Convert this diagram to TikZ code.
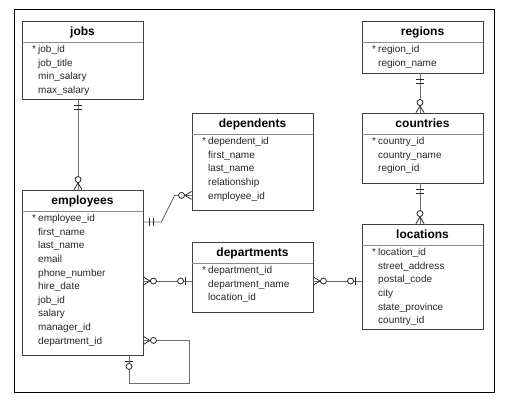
\documentclass[tikz,border=0pt]{standalone}
\usepackage{fontspec}
\setmainfont{Liberation Sans}
\usetikzlibrary{calc,fit}
\definecolor{boxline}{HTML}{404040}
\definecolor{sepcol}{HTML}{8C8C8C}
\definecolor{conncol}{HTML}{6E6E6E}
\newcommand{\ertable}[6]{%
  \node[tbox, fit={(#2,#3) (#2+121,#4)}] (#1) {};
  \draw[sepline] (#2,#3+21) -- (#2+121,#3+21);
  \node[ttl] (#1-title) at (#2+60.5,#3+10.5) {#5};
  \node[rowtxt] (#1-star) at (#2+10,#3+28) {*};
  \foreach \r [count=\i from 0] in {#6} {
    \node[rowtxt] (#1-\i) at (#2+16,#3+28+\i*13.6) {\r};
  }%
}
\tikzset{
  tbox/.style={draw=boxline, line width=0.9pt, fill=white, inner sep=0pt},
  sepline/.style={draw=sepcol, line width=0.9pt},
  ttl/.style={font=\fontsize{12}{14}\selectfont\bfseries, text height=8.6pt, text depth=0pt, inner sep=0pt, anchor=center},
  rowtxt/.style={font=\fontsize{10}{12}\selectfont, text=black!85, text height=7.2pt, text depth=0pt, inner sep=0pt, anchor=west},
  conn/.style={draw=conncol, line width=0.9pt},
  sym/.style={draw=black!85, line width=0.8pt},
  frame/.style={draw=black, line width=1pt},
  pics/zmany/.style={code={%
    \draw[sym] (0,-4) -- (6.5,0) -- (0,4);
    \draw[sym, fill=white] (10,0) circle[radius=3];}},
  pics/zone/.style={code={%
    \draw[sym] (6,-4) -- (6,4);
    \draw[sym, fill=white] (11,0) circle[radius=3];}},
  pics/oone/.style={code={%
    \draw[sym] (6,-4) -- (6,4) (10,-4) -- (10,4);}},
}
\begin{document}
\begin{tikzpicture}[x=1pt, y=-1pt]
\useasboundingbox (0,0) rectangle (506,401);
\fill[white] (0,0) rectangle (506,401);
\draw[frame] (14,10) rectangle (494,392);

\ertable{jobs}{22}{21}{99}{jobs}{job\_id, job\_title, min\_salary, max\_salary}
\ertable{employees}{22}{190}{355}{employees}{employee\_id, first\_name, last\_name, email, phone\_number, hire\_date, job\_id, salary, manager\_id, department\_id}
\ertable{dependents}{192}{113}{210}{dependents}{dependent\_id, first\_name, last\_name, relationship, employee\_id}
\ertable{departments}{192}{242}{312}{departments}{department\_id, department\_name, location\_id}
\ertable{regions}{362}{21}{73}{regions}{region\_id, region\_name}
\ertable{countries}{362}{113}{183}{countries}{country\_id, country\_name, region\_id}
\ertable{locations}{362}{224}{329}{locations}{location\_id, street\_address, postal\_code, city, state\_province, country\_id}

% connection points
\coordinate (jA) at ($(jobs.south)+(-4.5,0)$);
\coordinate (eA) at ($(employees.north)+(-4.5,0)$);
\coordinate (rA) at ($(regions.south)+(-2.5,0)$);
\coordinate (cA) at ($(countries.north)+(-2.5,0)$);
\coordinate (cB) at ($(countries.south)+(-2.5,0)$);
\coordinate (lA) at ($(locations.north)+(-2.5,0)$);
\coordinate (eB) at ($(employees.east |- employees-0)+(0,4)$);
\coordinate (dB) at (dependents.west |- dependents-4);
\coordinate (eC) at ($(employees.east)+(0,8.5)$);
\coordinate (dC) at (departments.west |- eC);
\coordinate (dD) at (departments.east |- eC);
\coordinate (lD) at (locations.west |- eC);
\coordinate (eS) at (employees.east |- employees-9);
\coordinate (eT) at ($(employees.south)+(46.5,0)$);

% connectors
\draw[conn] (jA) -- (eA);
\draw[conn] (rA) -- (cA);
\draw[conn] (cB) -- (lA);
\draw[conn] (eB) -- ++(18,0) -- ($(dB)+(-17,0)$) -- (dB);
\draw[conn] (eC) -- (dC);
\draw[conn] (dD) -- (lD);
\draw[conn] (eS) -- ++(46,0) -- ++(0,43) -| (eT);

% cardinality marks
\pic[rotate=-90] at (jA) {oone};
\pic[rotate=90] at (eA) {zmany};
\pic[rotate=-90] at (rA) {oone};
\pic[rotate=90] at (cA) {zmany};
\pic[rotate=-90] at (cB) {oone};
\pic[rotate=90] at (lA) {zmany};
\pic at (eB) {oone};
\pic[rotate=180] at (dB) {zmany};
\pic at (eC) {zmany};
\pic[rotate=180] at (dC) {zone};
\pic at (dD) {zmany};
\pic[rotate=180] at (lD) {zone};
\pic at (eS) {zmany};
\pic[rotate=-90] at (eT) {zone};
\end{tikzpicture}
\end{document}
